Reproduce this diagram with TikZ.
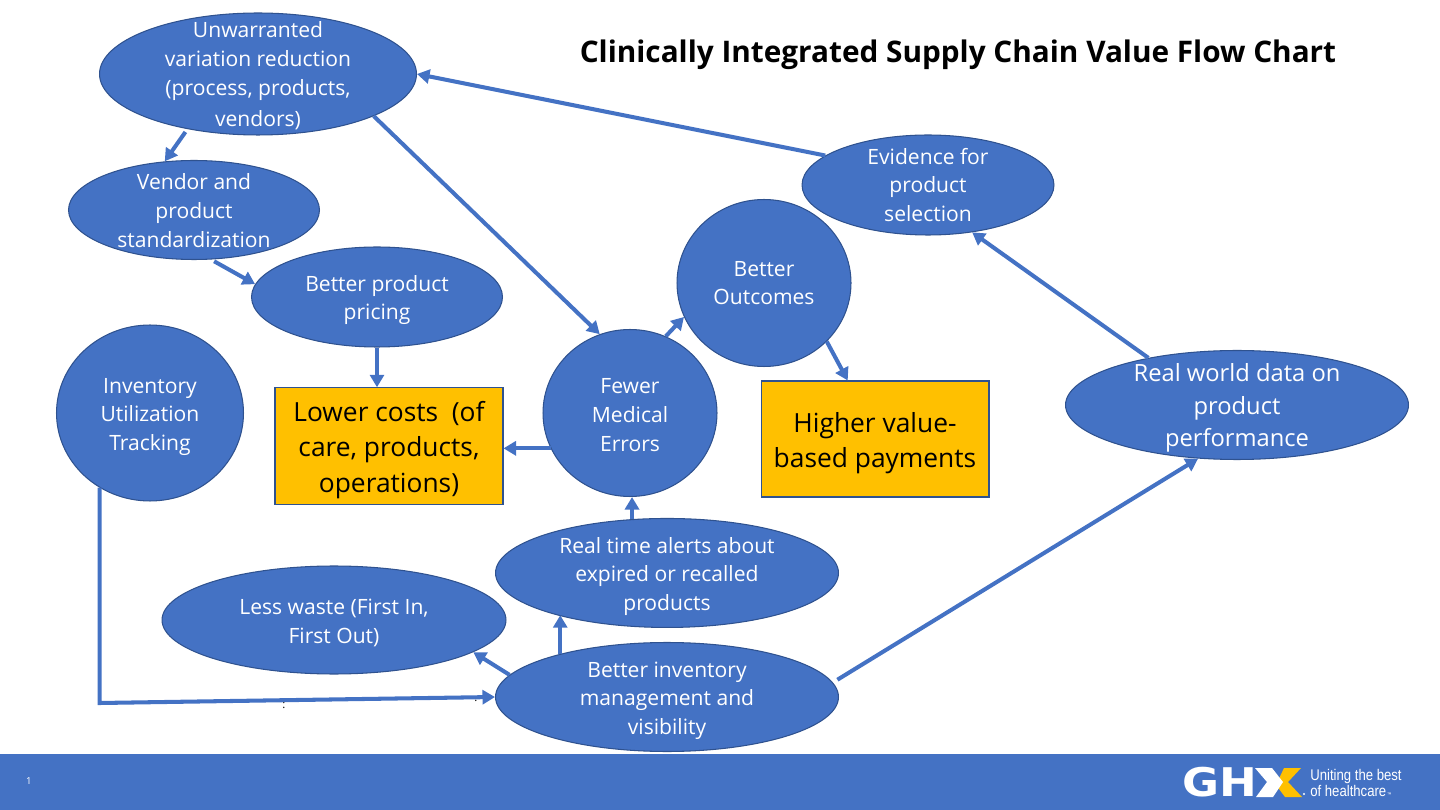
\documentclass[tikz,border=0pt]{standalone}
\usepackage{fontspec}
\setmainfont{Open Sans}
\newfontfamily\taglinefont{Liberation Sans}
\newfontfamily\logofont{DejaVu Sans}
\usetikzlibrary{positioning,arrows.meta,shapes.geometric}
\definecolor{ghxblue}{HTML}{4472C4}
\definecolor{ghxedge}{HTML}{2F528F}
\definecolor{ghxgold}{HTML}{FFC000}
% taller first line, pushes a node's text down a little
\newcommand{\lowered}[1]{\rule{0pt}{#1}}

\begin{document}
\begin{tikzpicture}[
    x=0.02cm, y=-0.02cm,
    bubble/.style={ellipse, draw=ghxedge, fill=ghxblue, line width=0.6pt, text=white,
                   align=center, inner sep=-30pt, font=\fontsize{12}{16.4}\selectfont},
    costbox/.style={rectangle, draw=ghxedge, fill=ghxgold, line width=0.6pt, text=black,
                    align=center, minimum width=4.56cm, minimum height=2.32cm,
                    font=\fontsize{15}{20}\selectfont},
    arr/.style={-{Triangle[length=0.25cm,width=0.28cm]}, draw=ghxblue, line width=2.3pt},
    speck/.style={text=black, font=\fontsize{6.5}{6.5}\selectfont, inner sep=0pt}
]
\useasboundingbox (0,0) rectangle (1440,810);
\node[rectangle, fill=ghxblue, minimum width=28.8cm, minimum height=1.12cm, inner sep=0pt] (footer) at (720,782) {};
\node[text=white, font=\fontsize{5.5}{6}\selectfont, inner sep=0pt] (pagenum) at (29,781) {1};

\node[font=\fontsize{16.93}{20}\selectfont\bfseries, inner sep=0pt] (title) at (958,55) {Clinically Integrated Supply Chain Value Flow Chart};

% top left chain
\node[bubble, minimum width=6.34cm, minimum height=2.44cm] (unwarranted) at (258,74) {\lowered{11pt}Unwarranted\\variation reduction\\(process, products,\\[1pt]vendors)};
\node[bubble, minimum width=5.02cm, minimum height=1.98cm] (vendor) at (194,210) {\lowered{10pt}Vendor and\\product\\standardization};
\node[bubble, minimum width=5.02cm, minimum height=2cm] (pricing) at (377,297) {\lowered{12.5pt}Better product\\pricing};
\node[bubble, minimum width=3.74cm, minimum height=3.52cm] (tracking) at (150,413) {\lowered{13pt}Inventory\\Utilization\\Tracking};

% middle
\node[bubble, minimum width=3.48cm, minimum height=3.34cm] (errors) at (630,413) {\lowered{11pt}Fewer\\Medical\\Errors};
\node[bubble, minimum width=3.48cm, minimum height=3.34cm] (outcomes) at (764,283) {Better\\Outcomes};
\node[bubble, minimum width=5.04cm, minimum height=2cm] (evidence) at (928,185) {Evidence for\\product\\selection};
\node[bubble, minimum width=6.86cm, minimum height=2.18cm, font=\fontsize{13.5}{18.4}\selectfont] (realworld) at (1237,405) {\lowered{13.5pt}Real world data on\\product\\performance};
\node[costbox] (lower) at (389,446) {\lowered{16pt}Lower costs\ \ (of\\care, products,\\operations)};
\node[costbox] (higher) at (875,439) {\lowered{16pt}Higher value-\\based payments};

% bottom row
\node[bubble, minimum width=6.86cm, minimum height=2.18cm] (inventory) at (667,697) {\lowered{13pt}Better inventory\\management and\\visibility};
\node[bubble, minimum width=6.86cm, minimum height=2.18cm, above=0.28cm of inventory] (alerts) {\lowered{13pt}Real time alerts about\\expired or recalled\\products};
\node[bubble, minimum width=6.88cm, minimum height=2.16cm] (waste) at (334,620) {\lowered{12.5pt}Less waste (First In,\\First Out)};

\coordinate (corner) at (100,703);
\node[speck] (speckA) at (284,705) {:};
\node[speck] (speckB) at (476,701) {.};

% connectors
\draw[arr] (evidence.164.7) -- (unwarranted.0);
\draw[arr, shorten <=2pt] (unwarranted.218) -- (vendor.121);
\draw[arr, shorten <=2pt] (vendor.-71) -- (pricing.174.5);
\draw[arr] (pricing.south) -- (pricing.south |- lower.north);
\draw[arr] (unwarranted.-20.6) -- (errors.111.3);
\draw[arr] (errors.65) -- (outcomes.203);
\draw[arr] (outcomes.-43) -- (higher.115);
\draw[arr] (errors.204) -- (lower.east |- errors.204);
\draw[arr] (alerts.123) -- (alerts.123 |- errors.south);
\draw[arr] (inventory.158) -- (inventory.158 |- alerts.201.6);
\draw[arr] (inventory.172) -- (waste.-13.6);
\draw[arr] (tracking.236) -- (tracking.236 |- corner) -- (inventory.west);
\draw[arr, shorten <=3pt] (inventory.5.3) -- (realworld.234);
\draw[arr] (realworld.152) -- (evidence.-47);

% logo in the footer
\node[text=white, font=\logofont\fontsize{22.5}{23}\selectfont\bfseries, xscale=1.14, inner sep=0pt, anchor=west] (ghx) at (1182,782) {GH};
\fill[ghxgold] (1284,768) -- (1301,768) -- (1288,782) -- (1302,797) -- (1285,797) -- (1276,785) -- cycle;
\fill[white] (1255,768) -- (1272,768) -- (1283,782) -- (1273,797) -- (1256,797) -- (1267,782) -- cycle;
\fill[white] (1304,794) circle (1.2);
\node[text=white, font=\taglinefont\fontsize{8.8}{9.4}\selectfont, align=left, xscale=0.85, inner sep=0pt, anchor=west] (tagline) at (1310,783) {Uniting the best\\of healthcare{\fontsize{3}{3}\selectfont\,™}};
\end{tikzpicture}
\end{document}
